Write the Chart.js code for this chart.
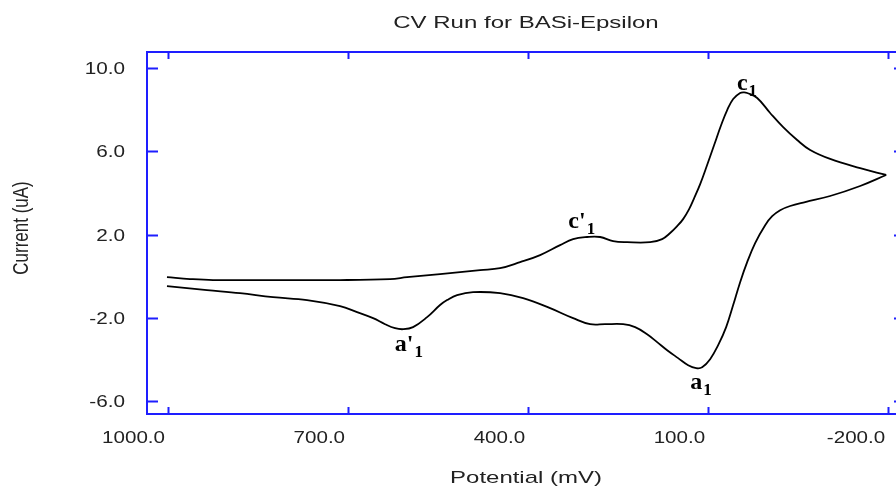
<!DOCTYPE html>
<html>
<head>
<meta charset="utf-8">
<script src="https://cdn.jsdelivr.net/npm/chart.js@4/dist/chart.umd.min.js"></script>
<style>
  html, body { margin: 0; padding: 0; background: #fff; overflow: hidden; width: 896px; height: 487px; }
  canvas { display: block; }
</style>
</head>
<body>
<canvas id="c" width="906" height="487"></canvas>
<script>
// ---- data ----
const chartTitle = "CV Run for BASi-Epsilon";
const xAxisTitle = "Potential (mV)";
const yAxisTitle = "Current (uA)";

const xTickValues = [1000, 700, 400, 100, -200];
const yTickValues = [10, 6, 2, -2, -6];

// forward (cathodic) sweep: 1000 mV -> -200 mV
const forwardPotential = [1001.7, 963.3, 925, 813.3, 713.3, 630, 601.7, 546.7, 480, 446.7, 413.3, 380, 346.7, 325, 301.7, 280, 258.3, 235, 196.7, 176.7, 163.3, 151.7, 141.7, 131.7, 123.3, 113.3, 101.7, 90, 78.3, 68.3, 58.3, 46.7, 40, 35, 18.3, -3.3, -25, -48.3, -70, -103.3, -153.3, -196.7];
const forwardCurrent   = [-0.05, -0.14, -0.19, -0.19, -0.19, -0.14, -0.05, 0.10, 0.29, 0.38, 0.67, 1.01, 1.49, 1.78, 1.88, 1.88, 1.68, 1.63, 1.63, 1.78, 2.07, 2.40, 2.74, 3.22, 3.75, 4.42, 5.34, 6.30, 7.26, 7.98, 8.51, 8.80, 8.83, 8.80, 8.56, 7.84, 7.16, 6.54, 6.06, 5.63, 5.19, 4.86];

// return (anodic) sweep: -200 mV -> 1000 mV
const returnPotential = [-196.7, -153.3, -103.3, -61.7, -36.7, -20, -6.7, 5, 21.7, 35, 46.7, 58.3, 70, 83.3, 96.7, 110, 120, 133.3, 150, 168.3, 185, 201.7, 221.7, 241.7, 271.7, 296.7, 325, 363.3, 408.3, 446.7, 491.7, 518.3, 535, 546.7, 568.3, 591.7, 608.3, 621.7, 638.3, 658.3, 685, 713.3, 768.3, 825, 880, 935, 1001.7];
const returnCurrent   = [4.86, 4.33, 3.85, 3.56, 3.37, 3.17, 2.88, 2.45, 1.59, 0.67, -0.29, -1.39, -2.45, -3.32, -3.99, -4.38, -4.42, -4.28, -3.94, -3.56, -3.17, -2.79, -2.45, -2.31, -2.31, -2.31, -2.02, -1.54, -1.06, -0.82, -0.77, -0.91, -1.15, -1.39, -1.97, -2.45, -2.55, -2.50, -2.31, -2.02, -1.73, -1.44, -1.15, -1.01, -0.82, -0.67, -0.48];

// peak labels (main letter, prime, subscript) and their anchor in data units
const peakLabelText  = ["c", "c'", "a'", "a"];
const peakLabelSub   = ["1", "1", "1", "1"];
const peakLabelX     = [52, 333, 622, 130];
const peakLabelY     = [8.94, 2.31, -3.61, -5.43];

// ---- build chart ----
const toPoints = (xs, ys) => xs.map((x, i) => ({ x: x, y: ys[i] }));

const FRAME = "rgb(30,30,255)";
const TEXT = "#222";

const framePlugin = {
  id: "framePlugin",
  afterDraw(chart) {
    const ctx = chart.ctx;
    const a = chart.chartArea;
    const xs = chart.scales.x, ys = chart.scales.y;
    ctx.save();
    // frame
    ctx.strokeStyle = FRAME;
    ctx.lineWidth = 2;
    ctx.strokeRect(a.left, a.top, a.right - a.left, a.bottom - a.top);
    // inward ticks
    ctx.beginPath();
    xTickValues.forEach(v => {
      const px = Math.round(xs.getPixelForValue(v)) + 0.5;
      ctx.moveTo(px, a.bottom); ctx.lineTo(px, a.bottom - 7);
      ctx.moveTo(px, a.top); ctx.lineTo(px, a.top + 7);
    });
    yTickValues.forEach(v => {
      const py = Math.round(ys.getPixelForValue(v)) + 0.5;
      ctx.moveTo(a.left, py); ctx.lineTo(a.left + 11, py);
      ctx.moveTo(a.right, py); ctx.lineTo(a.right - 11, py);
    });
    ctx.stroke();

    // tick labels (horizontally stretched like the reference)
    ctx.fillStyle = TEXT;
    ctx.font = "17px 'Liberation Sans', Arial, sans-serif";
    ctx.textBaseline = "alphabetic";
    yTickValues.forEach(v => {
      const py = ys.getPixelForValue(v);
      ctx.save();
      ctx.translate(125, py + 6);
      ctx.scale(1.22, 1);
      ctx.textAlign = "right";
      ctx.fillText(v.toFixed(1), 0, 0);
      ctx.restore();
    });
    xTickValues.forEach(v => {
      const px = xs.getPixelForValue(v);
      ctx.save();
      ctx.translate(px - 3, 443);
      ctx.scale(1.21, 1);
      ctx.textAlign = "right";
      ctx.fillText(v.toFixed(1), 0, 0);
      ctx.restore();
    });

    // title
    const cx = (a.left + a.right) / 2;
    ctx.save();
    ctx.font = "16px 'Liberation Sans', Arial, sans-serif";
    ctx.translate(cx, 28);
    ctx.scale(1.5, 1);
    ctx.textAlign = "center";
    ctx.fillText(chartTitle, 0, 0);
    ctx.restore();

    // x axis title
    ctx.save();
    ctx.font = "17px 'Liberation Sans', Arial, sans-serif";
    ctx.translate(cx, 483);
    ctx.scale(1.41, 1);
    ctx.textAlign = "center";
    ctx.fillText(xAxisTitle, 0, 0);
    ctx.restore();

    // y axis title
    ctx.save();
    ctx.font = "17px 'Liberation Sans', Arial, sans-serif";
    ctx.translate(28, 228);
    ctx.rotate(-Math.PI / 2);
    ctx.scale(1, 1.25);
    ctx.textAlign = "center";
    ctx.fillText(yAxisTitle, 0, 0);
    ctx.restore();

    // peak labels
    ctx.fillStyle = "#000";
    peakLabelText.forEach((t, i) => {
      const px = xs.getPixelForValue(peakLabelX[i]);
      const py = ys.getPixelForValue(peakLabelY[i]);
      ctx.font = "bold 24px 'Liberation Serif', 'Times New Roman', serif";
      ctx.textAlign = "left";
      ctx.fillText(t, px, py);
      const w = ctx.measureText(t).width;
      ctx.font = "bold 17px 'Liberation Serif', 'Times New Roman', serif";
      ctx.fillText(peakLabelSub[i], px + w + 1, py + 6);
    });
    ctx.restore();
  }
};

new Chart(document.getElementById("c"), {
  type: "scatter",
  data: {
    datasets: [
      { data: toPoints(forwardPotential, forwardCurrent), showLine: true, borderColor: "#000", borderWidth: 1.8, pointRadius: 0, tension: 0.4, fill: false },
      { data: toPoints(returnPotential, returnCurrent), showLine: true, borderColor: "#000", borderWidth: 1.8, pointRadius: 0, tension: 0.4, fill: false }
    ]
  },
  options: {
    responsive: false,
    animation: false,
    devicePixelRatio: 1,
    layout: { padding: { top: 52, right: 1, left: 0, bottom: 0 } },
    plugins: { legend: { display: false }, title: { display: false }, tooltip: { enabled: false } },
    scales: {
      x: {
        type: "linear", reverse: true, min: -228, max: 1035,
        grid: { display: false, drawTicks: false }, border: { display: false },
        ticks: { display: false },
        afterBuildTicks: s => { s.ticks = xTickValues.map(v => ({ value: v })); },
        afterFit: s => { s.height = 73; }
      },
      y: {
        type: "linear", min: -6.625, max: 10.77,
        grid: { display: false, drawTicks: false }, border: { display: false },
        ticks: { display: false },
        afterBuildTicks: s => { s.ticks = yTickValues.map(v => ({ value: v })); },
        afterFit: s => { s.width = 147; }
      }
    }
  },
  plugins: [framePlugin]
});
</script>
</body>
</html>
